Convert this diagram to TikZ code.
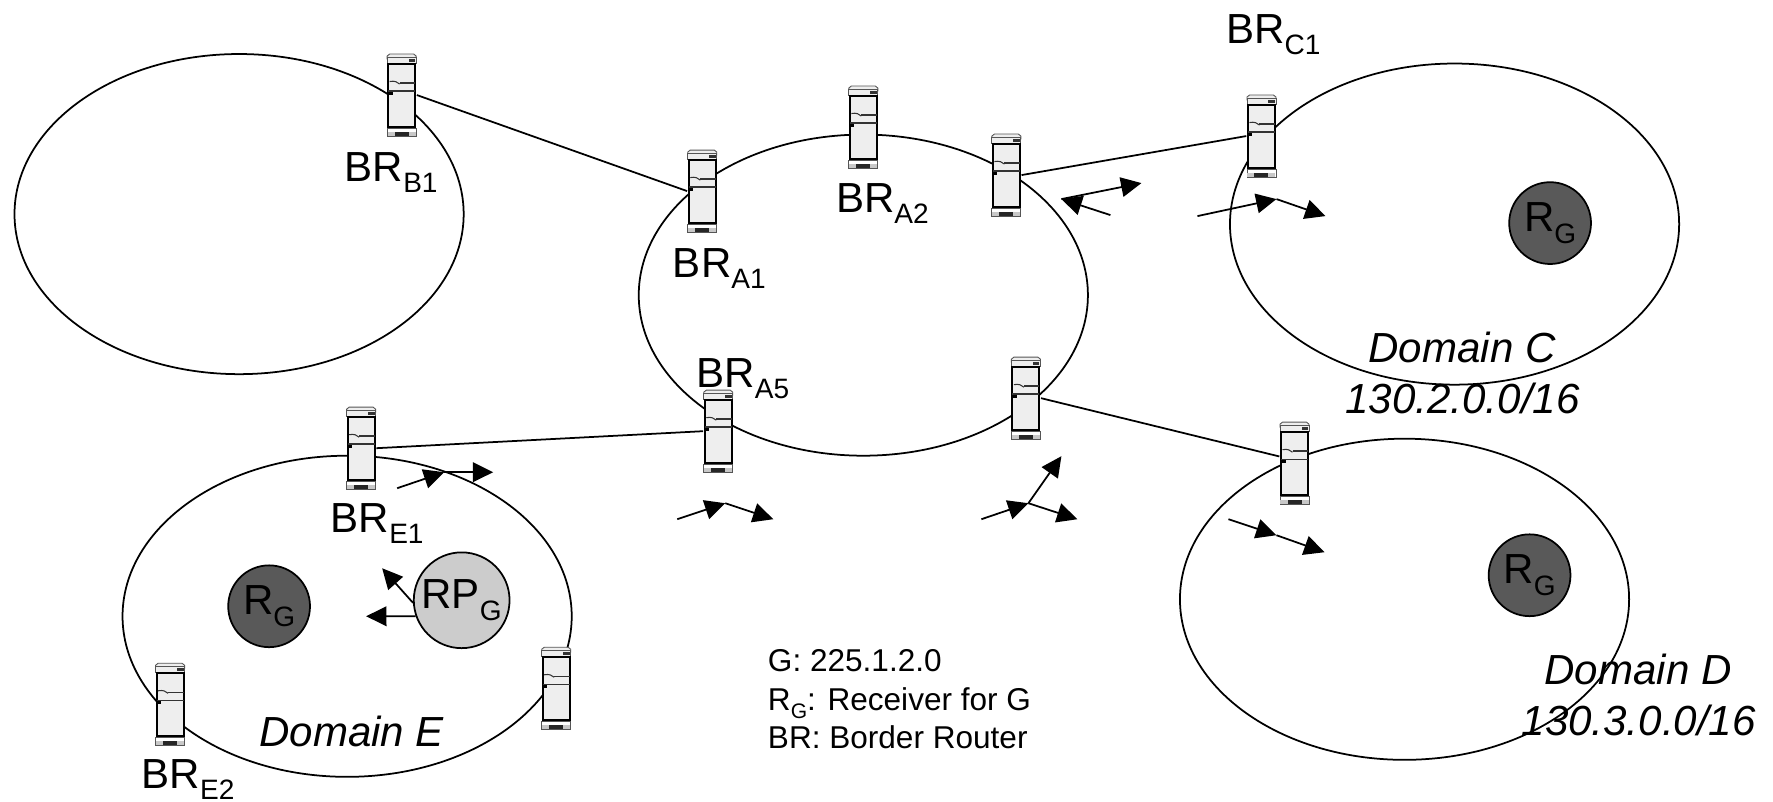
\documentclass[tikz,border=0pt]{standalone}
\usepackage{fontspec}
\setmainfont{Liberation Sans}
\usetikzlibrary{arrows.meta}
\definecolor{srvbody}{HTML}{EEEEEE}
\definecolor{srvgray}{HTML}{C8C8C8}
\definecolor{srvedge}{HTML}{555555}
\definecolor{rgfill}{HTML}{595959}
\definecolor{rpfill}{HTML}{CCCCCC}
\newcommand{\subs}[1]{\raisebox{-3.2pt}{\fontsize{8}{8}\selectfont #1}}
\newcommand{\subsmall}[1]{\raisebox{-2.2pt}{\fontsize{6}{6}\selectfont #1}}
\tikzset{
  domainring/.style={draw=black,line width=0.5pt,fill=none},
  linkline/.style={draw=black,line width=0.5pt},
  flowarrow/.style={draw=black,line width=0.5pt,-{Triangle[length=5.8pt,width=5.6pt]}},
  brlabel/.style={inner sep=0pt,anchor=base west,font=\fontsize{12}{14}\selectfont},
  domlabel/.style={inner sep=0pt,anchor=base,font=\fontsize{12}{14}\selectfont\itshape},
  leglabel/.style={inner sep=0pt,anchor=base west,font=\fontsize{9}{11}\selectfont},
  srvbox/.style={inner sep=0pt,minimum width=0.29cm,minimum height=0.82cm},
  recvnode/.style={circle,draw=black,line width=0.5pt,fill=rgfill,minimum size=0.82cm,inner sep=0pt,font=\fontsize{12}{14}\selectfont},
  rpnode/.style={circle,draw=black,line width=0.5pt,fill=rpfill,minimum size=0.96cm,inner sep=0pt,font=\fontsize{12}{14}\selectfont},
}
\newcommand{\server}[2]{%
  \node[srvbox] (#1) at (#2) {};
  \begin{scope}[shift={(#2)}]
    % top cap
    \draw[srvedge,line width=0.25pt,fill=srvbody] (-14.5,-36) -- (-14.5,-39) -- (-12,-41) -- (12,-41) -- (14.5,-39) -- (14.5,-36) -- cycle;
    \draw[srvedge,line width=0.25pt,fill=srvbody] (-14.5,-38) rectangle (14.5,-32);
    \fill[black!80] (7,-36) rectangle (13.5,-33.5);
    % body
    \draw[black,line width=0.6pt,fill=srvbody] (-13.5,-31) rectangle (13.5,32);
    \draw[black,line width=0.5pt] (-13.5,-31) -- (-13.5,32);
    \draw[black!80,line width=0.4pt] (-13.5,-4) -- (13.5,-4);
    \draw[black!80,line width=0.4pt] (-2,-12) -- (13.5,-12);
    \draw[black!80,line width=0.3pt] (-12,-13.5) .. controls (-7,-14.5) and (-4,-13) .. (-2,-11);
    \fill[black] (-13,-3) rectangle (-9,0);
    % base
    \draw[srvedge,line width=0.25pt,fill=white] (-14.5,33) rectangle (14.5,41);
    \fill[srvgray] (-14,36.5) rectangle (14,40.5);
    \fill[black!85] (-7,36.5) rectangle (7,40.5);
  \end{scope}
}
\begin{document}
\begin{tikzpicture}[x=0.284264bp,y=-0.284289bp]
\useasboundingbox[fill=white] (0bp,0bp) rectangle (503.8bp,-227.8bp);
% domains
\draw[domainring] (239,214) ellipse [x radius=224.5,y radius=160];
\draw[domainring] (863,295) ellipse [x radius=224.5,y radius=160.5];
\draw[domainring] (1454,224) ellipse [x radius=224.5,y radius=160.5];
\draw[domainring] (1404,599) ellipse [x radius=224.5,y radius=160.5];
\draw[domainring] (347,616) ellipse [x radius=224.5,y radius=160.5];
% servers
\server{bb}{401.5,95}
\server{aa}{702,191}
\server{ab}{863,127}
\server{ac}{1006,175}
\server{cc}{1261,136}
\server{ae}{718,431}
\server{ad}{1025.5,398}
\server{dd}{1294,463}
\server{ea}{361,448}
\server{ec}{556,688}
\server{eb}{170,704}
% links
\draw[linkline] (bb.east) -- (aa.west);
\draw[linkline] (ac.east) -- (cc.west);
\draw[linkline] (ea.east) -- (ae.west);
\draw[linkline] (ad.east) -- (dd.156);
% receivers
\node[recvnode] (rc) at (1549.5,223) {R\subs{G}};
\node[recvnode] (rd) at (1529,575) {R\subs{G}};
\node[recvnode] (re) at (269,606) {R\subs{G}};
\node[rpnode] (rpg) at (461.5,600) {RP\subs{G}};
% flow arrows
\coordinate (f1a) at (1110,215);
\coordinate (f1b) at (1061,199);
\coordinate (f1c) at (1141,183);
\draw[flowarrow] (f1a) -- (f1b);
\draw[flowarrow] (f1b) -- (f1c);
\coordinate (f2a) at (1197,216);
\coordinate (f2b) at (1276,199);
\coordinate (f2c) at (1325,216);
\draw[flowarrow] (f2a) -- (f2b);
\draw[flowarrow] (f2b) -- (f2c);
\coordinate (f3a) at (397,488);
\coordinate (f3b) at (444,472);
\coordinate (f3c) at (493,472);
\draw[flowarrow] (f3a) -- (f3b);
\draw[flowarrow] (f3b) -- (f3c);
\coordinate (f4a) at (677,519);
\coordinate (f4b) at (725,503);
\coordinate (f4c) at (773,519);
\draw[flowarrow] (f4a) -- (f4b);
\draw[flowarrow] (f4b) -- (f4c);
\coordinate (f5a) at (981,519);
\coordinate (f5b) at (1028,503);
\coordinate (f5c) at (1077,519);
\coordinate (f5d) at (1061,456);
\draw[flowarrow] (f5a) -- (f5b);
\draw[flowarrow] (f5b) -- (f5c);
\draw[flowarrow] (f5b) -- (f5d);
\coordinate (f6a) at (1228,519);
\coordinate (f6b) at (1276,535);
\coordinate (f6c) at (1324,552);
\draw[flowarrow] (f6a) -- (f6b);
\draw[flowarrow] (f6b) -- (f6c);
\coordinate (f7a) at (382,568);
\coordinate (f7b) at (366,616);
\draw[flowarrow] (rpg.183) -- (f7a);
\draw[flowarrow] (rpg.199) -- (f7b);
% labels
\node[brlabel] (lb1) at (344,181) {BR\subs{B1}};
\node[brlabel] (lc1) at (1225,43) {BR\subs{C1}};
\node[brlabel] (la2) at (835,212) {BR\subs{A2}};
\node[brlabel] (la1) at (672,277) {BR\subs{A1}};
\node[brlabel] (la5) at (695.5,387) {BR\subs{A5}};
\node[brlabel] (le1) at (330,532) {BR\subs{E1}};
\node[brlabel] (le2) at (141,788) {BR\subs{E2}};
\node[domlabel] (dc) at (1461.5,362) {Domain C};
\node[domlabel] (nc) at (1462,413) {130.2.0.0/16};
\node[domlabel] (ddl) at (1637.5,684) {Domain D};
\node[domlabel] (nd) at (1638,735) {130.3.0.0/16};
\node[domlabel] (de) at (351.5,746) {Domain E};
\node[leglabel] (l1) at (767,671) {G: 225.1.2.0};
\node[leglabel] (l2) at (767,710) {R\subsmall{G}: Receiver for G};
\node[leglabel] (l3) at (767,748) {BR: Border Router};
\end{tikzpicture}
\end{document}
